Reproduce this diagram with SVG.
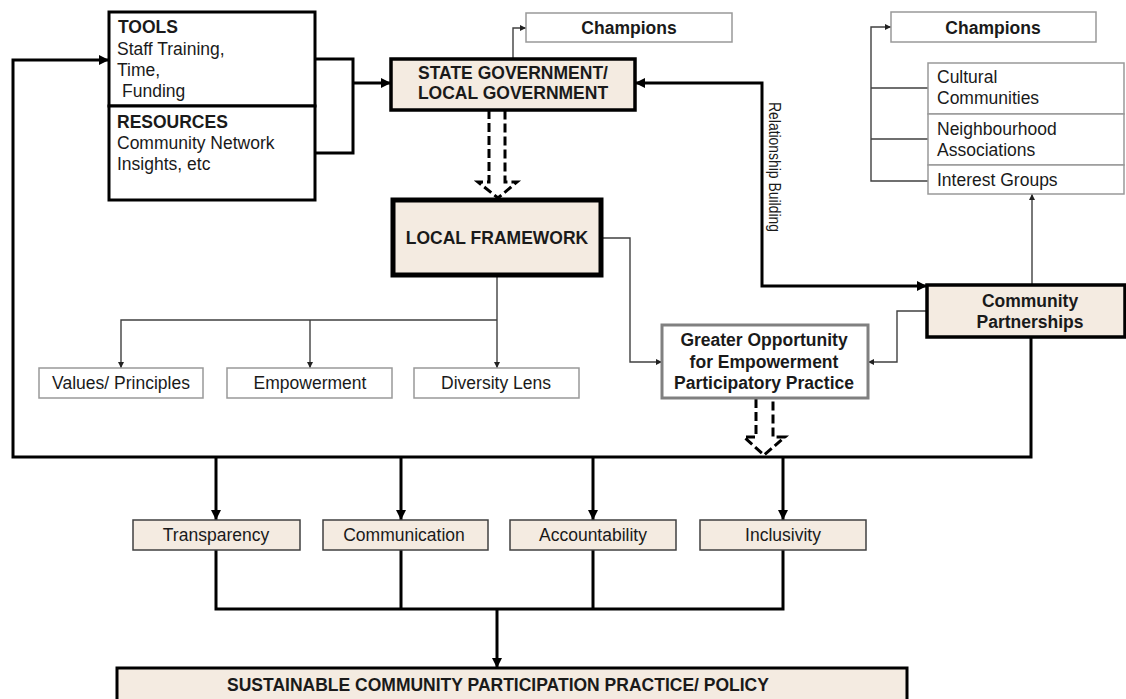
<svg xmlns="http://www.w3.org/2000/svg" width="1126" height="699" viewBox="0 0 1126 699">
<defs>
<style>
text{font-family:"Liberation Sans",Arial,sans-serif;font-size:17.5px;fill:#1a1a1a}
.b{font-weight:bold}
.m{text-anchor:middle}
.beige{fill:#f4ebe1}
.thick{fill:none;stroke:#000;stroke-width:3}
.thin{fill:none;stroke:#404040;stroke-width:1.4}
.dash{fill:#fff;stroke:#000;stroke-width:3;stroke-dasharray:9,4}
.gbox{fill:#fff;stroke:#999;stroke-width:1.5}
</style>
<marker id="aT" viewBox="0 0 10 10" refX="10" refY="5" markerWidth="11" markerHeight="10" markerUnits="userSpaceOnUse" orient="auto-start-reverse"><path d="M0,0 L10,5 L0,10 z" fill="#000"/></marker>
<marker id="as" viewBox="0 0 10 10" refX="10" refY="5" markerWidth="7" markerHeight="6" markerUnits="userSpaceOnUse" orient="auto-start-reverse"><path d="M0,0 L10,5 L0,10 z" fill="#222"/></marker>
</defs>
<rect width="1126" height="699" fill="#fff"/>

<g id="connectors">
<path class="thick" d="M1031,337 V457 H13 V60 H109" marker-end="url(#aT)"/>
<path class="thick" d="M315,59 H353 V153 H315"/>
<path class="thick" d="M353,83 H391" marker-end="url(#aT)"/>
<path class="thin" d="M513,59 V28 H526" marker-end="url(#as)"/>
<path class="thick" d="M635,83 H762 V286 H927" marker-start="url(#aT)" marker-end="url(#aT)"/>
<path class="dash" d="M489,110 V182 H478 L498,198 L517,182 H505 V110"/>
<path class="thin" d="M497,275 V368" marker-end="url(#as)"/>
<path class="thin" d="M497,320 H121 V368" marker-end="url(#as)"/>
<path class="thin" d="M310,320 V368" marker-end="url(#as)"/>
<path class="thin" d="M601,238 H630 V362 H662" marker-end="url(#as)"/>
<path class="thin" d="M927,311 H897 V362 H868" marker-end="url(#as)"/>
<path class="thin" d="M1032,285 V194" marker-end="url(#as)"/>
<path class="thin" d="M928,181 H871 V27 H891" marker-end="url(#as)"/>
<path class="thin" d="M871,88 H928 M871,139 H928"/>
<path class="dash" d="M756,399 V437 H744 L764,455 L785,437 H773 V399"/>
<path class="thick" d="M216,457 V520" marker-end="url(#aT)"/>
<path class="thick" d="M401,457 V520" marker-end="url(#aT)"/>
<path class="thick" d="M593,457 V520" marker-end="url(#aT)"/>
<path class="thick" d="M783,457 V520" marker-end="url(#aT)"/>
<path class="thick" d="M216,550 V609 H783 V550 M401,550 V609 M593,550 V609"/>
<path class="thick" d="M497,609 V668" marker-end="url(#aT)"/>
</g>

<g id="tools">
<rect x="109" y="12" width="206" height="94" fill="#fff" stroke="#000" stroke-width="3"/>
<text x="118" y="33" class="b">TOOLS</text>
<text x="117" y="55">Staff Training,</text>
<text x="117" y="76">Time,</text>
<text x="122" y="97">Funding</text>
</g>
<g id="resources">
<rect x="109" y="106" width="206" height="94" fill="#fff" stroke="#000" stroke-width="3"/>
<text x="117" y="128" class="b">RESOURCES</text>
<text x="117" y="149">Community Network</text>
<text x="117" y="170">Insights, etc</text>
</g>
<g id="state-gov">
<rect x="391" y="59" width="244" height="51" class="beige" stroke="#000" stroke-width="3.5"/>
<text x="513" y="79" class="b m">STATE GOVERNMENT/</text>
<text x="513" y="99" class="b m">LOCAL GOVERNMENT</text>
</g>
<g id="champions-1">
<rect x="526" y="13" width="206" height="29" class="gbox"/>
<text x="629" y="34" class="b m">Champions</text>
</g>
<g id="champions-2">
<rect x="891" y="12" width="205" height="30" class="gbox"/>
<text x="993" y="34" class="b m">Champions</text>
</g>
<g id="cultural">
<rect x="928" y="63" width="196" height="51" class="gbox"/>
<text x="937" y="83">Cultural</text>
<text x="937" y="104">Communities</text>
</g>
<g id="neighbourhood">
<rect x="928" y="114" width="196" height="51" class="gbox"/>
<text x="937" y="135">Neighbourhood</text>
<text x="937" y="156">Associations</text>
</g>
<g id="interest">
<rect x="928" y="165" width="196" height="29" class="gbox"/>
<text x="937" y="186">Interest Groups</text>
</g>
<g id="relationship-label">
<text transform="translate(769,167) rotate(90)" class="m" style="font-size:17px" textLength="130" lengthAdjust="spacingAndGlyphs">Relationship Building</text>
</g>
<g id="local-framework">
<rect x="393" y="200" width="208" height="75" class="beige" stroke="#000" stroke-width="5"/>
<text x="497" y="244" class="b m">LOCAL FRAMEWORK</text>
</g>
<g id="values">
<rect x="39" y="368" width="164" height="30" class="gbox"/>
<text x="121" y="389" class="m">Values/ Principles</text>
</g>
<g id="empowerment">
<rect x="227" y="368" width="165" height="30" class="gbox"/>
<text x="310" y="389" class="m">Empowerment</text>
</g>
<g id="diversity">
<rect x="414" y="368" width="165" height="30" class="gbox"/>
<text x="496" y="389" class="m">Diversity Lens</text>
</g>
<g id="greater-opportunity">
<rect x="662" y="325" width="206" height="73" fill="#fff" stroke="#808080" stroke-width="3"/>
<text x="764" y="346" class="b m">Greater Opportunity</text>
<text x="764" y="368" class="b m">for Empowerment</text>
<text x="764" y="389" class="b m">Participatory Practice</text>
</g>
<g id="community-partnerships">
<rect x="927" y="285" width="198" height="52" class="beige" stroke="#000" stroke-width="3.5"/>
<text x="1030" y="307" class="b m">Community</text>
<text x="1030" y="328" class="b m">Partnerships</text>
</g>
<g id="transparency">
<rect x="133" y="520" width="167" height="30" class="beige" stroke="#404040" stroke-width="1.5"/>
<text x="216" y="541" class="m">Transparency</text>
</g>
<g id="communication">
<rect x="323" y="520" width="165" height="30" class="beige" stroke="#404040" stroke-width="1.5"/>
<text x="404" y="541" class="m">Communication</text>
</g>
<g id="accountability">
<rect x="510" y="520" width="166" height="30" class="beige" stroke="#404040" stroke-width="1.5"/>
<text x="593" y="541" class="m">Accountability</text>
</g>
<g id="inclusivity">
<rect x="700" y="520" width="166" height="30" class="beige" stroke="#404040" stroke-width="1.5"/>
<text x="783" y="541" class="m">Inclusivity</text>
</g>
<g id="sustainable">
<rect x="117" y="668" width="790" height="35" class="beige" stroke="#000" stroke-width="3"/>
<text x="498" y="691" class="b m">SUSTAINABLE COMMUNITY PARTICIPATION PRACTICE/ POLICY</text>
</g>
</svg>
